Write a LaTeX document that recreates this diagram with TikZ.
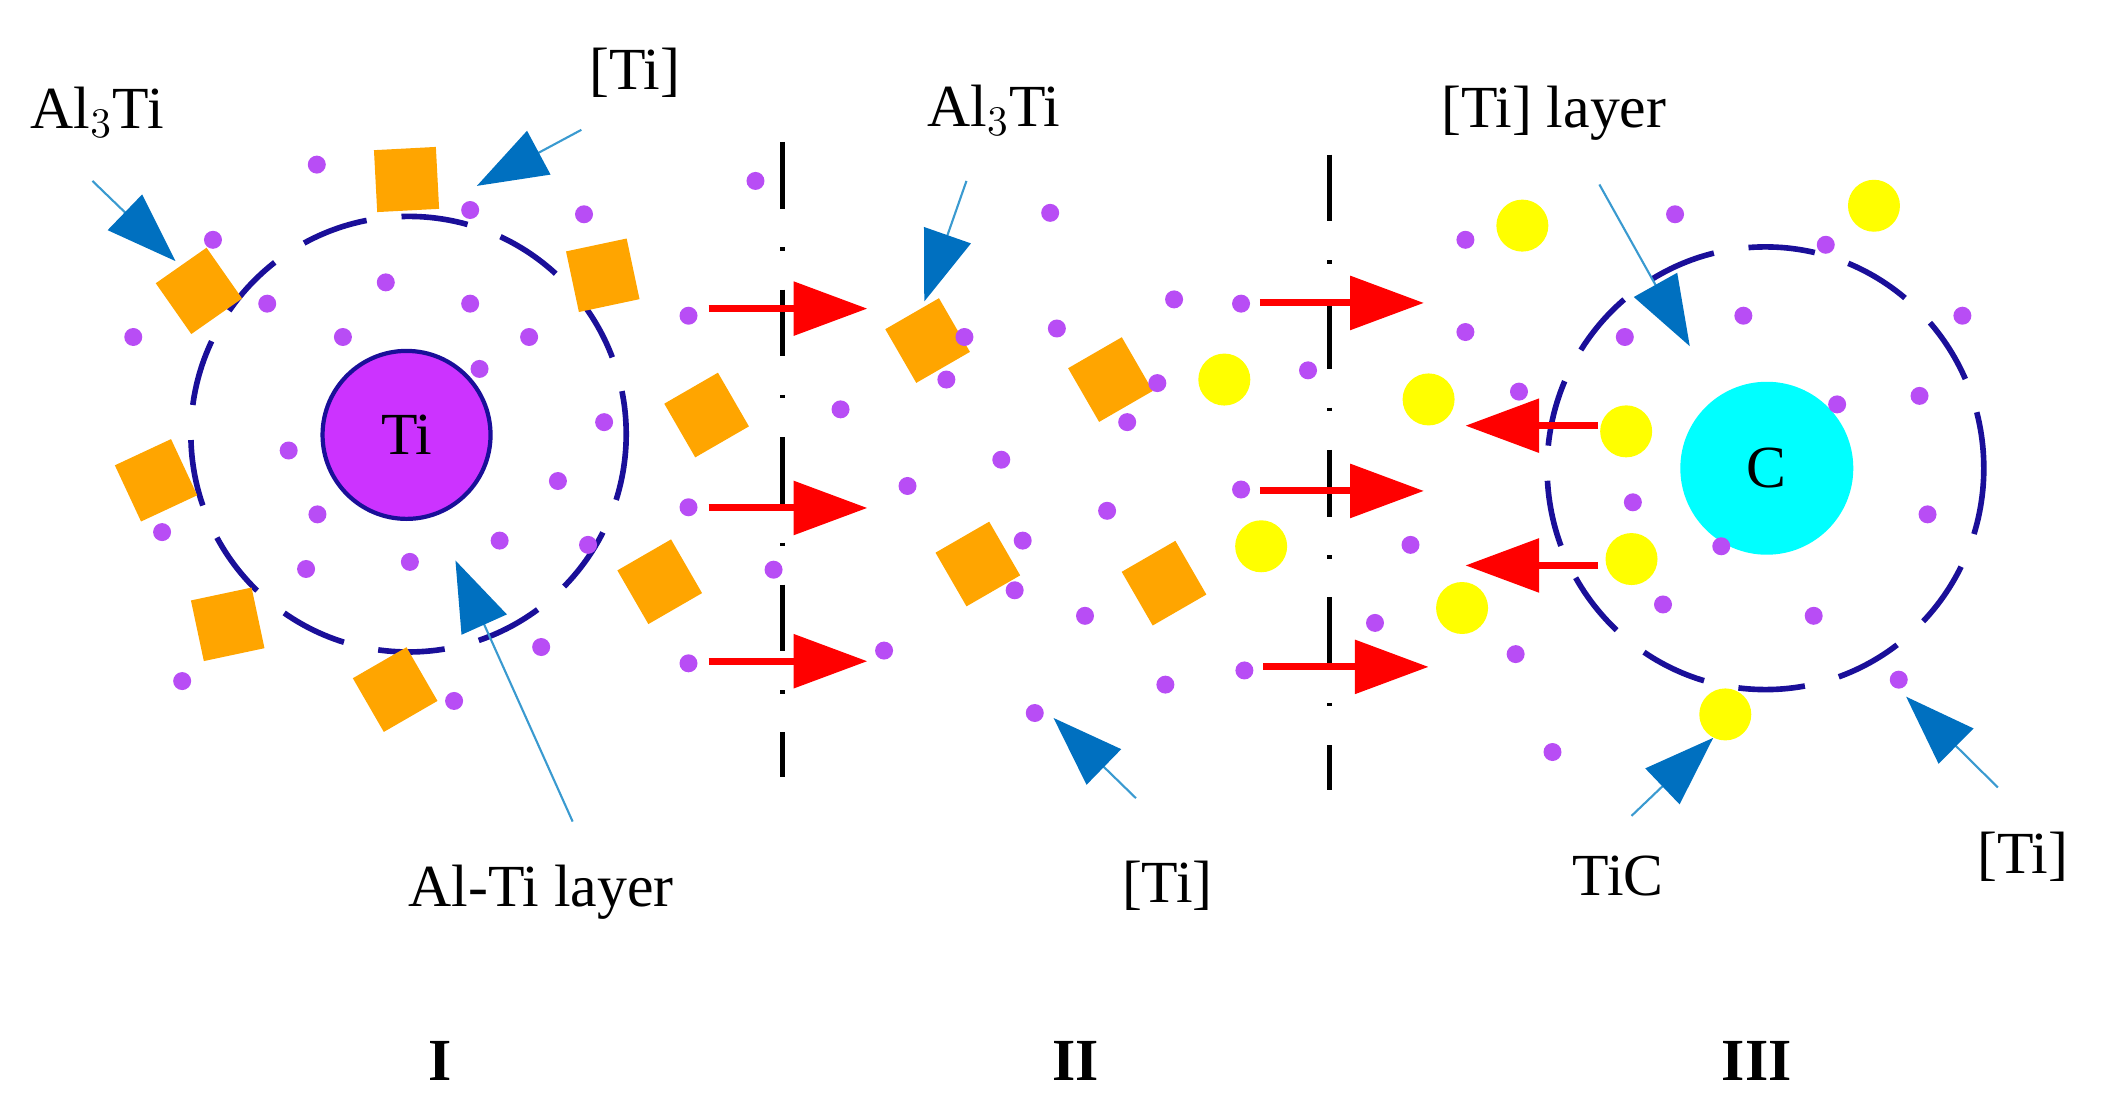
\documentclass[tikz,border=0pt]{standalone}
\usepackage{fontspec}
\setmainfont{Liberation Serif}
\usetikzlibrary{arrows.meta}
\definecolor{navy}{HTML}{1A0F99}
\definecolor{vio}{HTML}{CC33FF}
\definecolor{dotc}{HTML}{B84DF5}
\definecolor{orng}{HTML}{FFA500}
\definecolor{bhead}{HTML}{0070C0}
\definecolor{bshaft}{HTML}{3A9AD0}
\definecolor{cyn}{HTML}{00FFFF}
\definecolor{yel}{HTML}{FFFF00}
\begin{document}
\begin{tikzpicture}[x=0.006698cm,y=-0.007092cm,
  lbl/.style={font=\fontsize{17}{20}\selectfont, inner sep=0pt},
  num/.style={font=\fontsize{17}{20}\selectfont\bfseries, inner sep=0pt},
  dot/.style={circle,fill=dotc,minimum size=0.18cm,inner sep=0pt},
  sq/.style={fill=orng,minimum size=0.62cm,inner sep=0pt},
  yel/.style={circle,fill=yel,minimum size=0.52cm,inner sep=0pt},
  layer/.style={draw=navy,line width=1.6pt,dash pattern=on 19pt off 10pt},
  sep/.style={draw=black,line width=1.4pt,dash pattern=on 19pt off 11pt on 1pt off 11pt},
  redarr/.style={draw=red,line width=2pt,-{Triangle[length=21pt,width=15pt,color=red]}},
  bluearr/.style={draw=bshaft,line width=0.6pt,-{Triangle[length=20pt,width=14pt,color=bhead]}}]
\useasboundingbox (0,0) rectangle (3137,1551);
% separators
\draw[sep] (1168,200) -- (1168,1095);
\draw[sep] (1985,218) -- (1985,1113);
% layers
\draw[layer] (610,612) ellipse [x radius=325,y radius=307];
\draw[layer] (2636,660) ellipse [x radius=326,y radius=312];
% cores
\node[circle,fill=vio,draw=navy,line width=1.2pt,minimum size=1.68cm,inner sep=0pt,lbl] (ti) at (607,613) {Ti};
\node[circle,fill=cyn,minimum size=1.73cm,inner sep=0pt,lbl] (c) at (2638,660) {C};
% squares
\foreach \p/\r [count=\i] in {{(607,253)}/3,{(297,410)}/35,{(900,388)}/12,{(233,677)}/25,{(1055,585)}/30,{(340,880)}/12,{(985,820)}/30,{(590,972)}/30,{(1385,480)}/30,{(1460,795)}/30,{(1658,535)}/30,{(1738,822)}/30}
  \node[sq,rotate=\r] (s\i) at \p {};
% yellow
\foreach \p [count=\i] in {(2273,318),(2798,290),(1828,535),(2133,563),(2428,608),(1883,770),(2436,788),(2183,857),(2576,1007)}
  \node[yel] (y\i) at \p {};
% dots
\foreach \p [count=\i] in {(473,232),(702,296),(872,302),(318,338),(199,475),(399,428),(576,398),(702,428),(512,475),(790,475),(716,520),(902,595),(431,635),(833,678),(474,725),(746,762),(612,792),(878,768),(457,802),(242,750),(808,912),(678,988),(272,960),(1028,445),(1028,715),(1028,935),(1128,255),(1255,577),(1155,803),(1320,917),(1355,685),(1495,648),(1545,1005),(1440,475),(1413,535),(1527,762),(1515,832),(1568,300),(1578,463),(1753,422),(1853,428),(1728,540),(1683,595),(1953,522),(1853,690),(1653,720),(1620,868),(1740,965),(1858,945),(2053,878),(2106,768),(2188,338),(2188,468),(2268,552),(2426,475),(2501,302),(2603,445),(2726,345),(2930,445),(2743,570),(2866,558),(2438,708),(2570,770),(2878,725),(2483,852),(2708,868),(2263,922),(2835,958),(2318,1060)}
  \node[dot] (d\i) at \p {};
% red arrows
\coordinate (r1a) at (1058,435); \coordinate (r1b) at (1295,435);
\coordinate (r2a) at (1058,716); \coordinate (r2b) at (1295,716);
\coordinate (r3a) at (1058,932); \coordinate (r3b) at (1295,932);
\coordinate (r4a) at (1881,427); \coordinate (r4b) at (2126,427);
\coordinate (r5a) at (1881,692); \coordinate (r5b) at (2126,692);
\coordinate (r6a) at (1886,940); \coordinate (r6b) at (2133,940);
\coordinate (r7a) at (2386,600); \coordinate (r7b) at (2188,600);
\coordinate (r8a) at (2386,797); \coordinate (r8b) at (2188,797);
\foreach \i in {1,...,8} \draw[redarr] (r\i a) -- (r\i b);
% labels
\node[lbl] (l1) at (145,158) {Al$_3$Ti};
\node[lbl] (l2) at (948,103) {[Ti]};
\node[lbl] (l3) at (808,1258) {Al-Ti layer};
\node[lbl] (l4) at (1484,155) {Al$_3$Ti};
\node[lbl] (l5) at (2320,160) {[Ti] layer};
\node[lbl] (l6) at (1743,1248) {[Ti]};
\node[lbl] (l7) at (2416,1235) {TiC};
\node[lbl] (l8) at (3020,1208) {[Ti]};
\node[num] at (657,1495) {I};
\node[num] at (1606,1495) {II};
\node[num] at (2623,1495) {III};
% blue arrows
\coordinate (b1a) at (138,255); \coordinate (b1b) at (262,368);
\coordinate (b2a) at (868,183); \coordinate (b2b) at (712,262);
\coordinate (b3a) at (855,1158); \coordinate (b3b) at (680,790);
\coordinate (b4a) at (1443,255); \coordinate (b4b) at (1380,425);
\coordinate (b5a) at (2388,260); \coordinate (b5b) at (2523,488);
\coordinate (b6a) at (2436,1150); \coordinate (b6b) at (2558,1040);
\coordinate (b7a) at (2983,1110); \coordinate (b7b) at (2846,982);
\coordinate (b8a) at (1696,1125); \coordinate (b8b) at (1573,1012);
\foreach \i in {1,...,8} \draw[bluearr] (b\i a) -- (b\i b);
\end{tikzpicture}
\end{document}
